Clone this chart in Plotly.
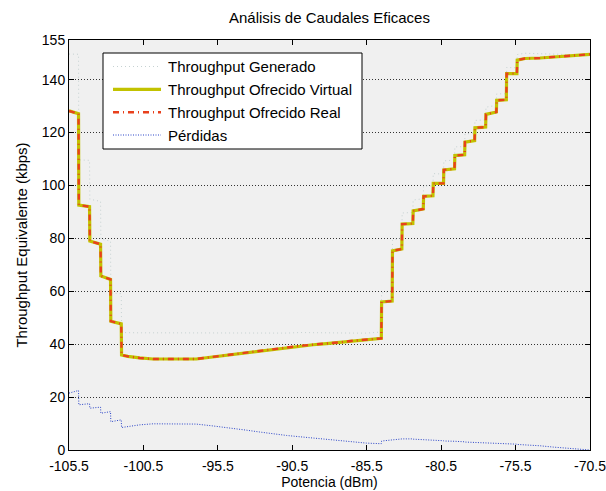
import plotly.graph_objects as go

# Potencia recibida (dBm) en los puntos de ruptura de las curvas
potencia = [-105.50, -104.86, -104.84, -104.12, -104.10, -103.38, -103.36, -102.71,
            -102.69, -101.99, -101.97, -101.55, -100.76, -99.86, -96.95, -95.83,
            -94.48, -93.58, -92.69, -91.79, -90.89, -89.99, -89.10, -88.20,
            -87.31, -86.41, -85.51, -84.62, -84.52, -84.50, -83.79, -83.77,
            -83.14, -83.12, -82.40, -82.38, -81.70, -81.68, -81.05, -81.03,
            -80.34, -80.32, -79.60, -79.58, -78.92, -78.90, -78.25, -78.23,
            -77.51, -77.49, -76.79, -76.77, -76.12, -76.10, -75.41, -75.39,
            -74.87, -73.86, -72.97, -72.06, -71.17, -70.50]

# Throughput generado (kbps)
generado = [149.7, 149.6, 109.7, 109.5, 94.8, 94.0, 79.7, 79.0, 59.4, 59.1,
            44.4, 44.3, 44.3, 44.3, 44.2, 44.3, 44.2, 44.2, 44.1, 44.2,
            44.2, 44.4, 44.3, 44.2, 44.1, 44.2, 44.2, 44.5, 44.6, 59.4,
            60.2, 79.3, 80.2, 89.6, 89.8, 94.5, 95.0, 99.8, 99.8, 104.5,
            104.3, 109.3, 109.6, 114.6, 114.7, 119.4, 119.9, 124.6, 124.8, 129.6,
            130.3, 134.6, 134.7, 144.6, 144.5, 149.5, 150.0, 149.8, 149.6, 149.4,
            149.4, 149.6]

# Throughput ofrecido, canal virtual (kbps)
ofrecido_virtual = [128.2, 127.1, 92.6, 92.0, 79.0, 77.8, 65.8, 64.5, 48.7, 47.7,
                    35.9, 35.4, 34.8, 34.4, 34.4, 35.2, 35.9, 36.7, 37.3, 38.1,
                    38.7, 39.4, 39.8, 40.2, 40.7, 41.3, 41.6, 42.1, 42.2, 56.0,
                    56.3, 75.3, 76.0, 85.4, 85.6, 90.4, 91.1, 95.9, 96.1, 100.8,
                    100.8, 105.9, 106.3, 111.3, 111.6, 116.4, 117.0, 121.8, 122.1, 126.9,
                    127.8, 132.2, 132.4, 142.3, 142.3, 147.4, 148.0, 148.2, 148.5, 148.8,
                    149.1, 149.6]

# Throughput ofrecido, canal real (kbps)
ofrecido_real = [128.2, 127.1, 92.6, 92.0, 79.0, 77.8, 65.8, 64.5, 48.7, 47.7,
                 35.9, 35.4, 34.8, 34.4, 34.4, 35.2, 35.9, 36.7, 37.3, 38.1,
                 38.7, 39.4, 39.8, 40.2, 40.7, 41.3, 41.6, 42.1, 42.2, 56.0,
                 56.3, 75.3, 76.0, 85.4, 85.6, 90.4, 91.1, 95.9, 96.1, 100.8,
                 100.8, 105.9, 106.3, 111.3, 111.6, 116.4, 117.0, 121.8, 122.1, 126.9,
                 127.8, 132.2, 132.4, 142.3, 142.3, 147.4, 148.0, 148.2, 148.5, 148.8,
                 149.1, 149.6]

# Pérdidas (kbps)
perdidas = [21.5, 22.5, 17.1, 17.5, 15.8, 16.2, 13.9, 14.5, 10.7, 11.4,
            8.5, 8.9, 9.5, 9.9, 9.8, 9.1, 8.3, 7.5, 6.8, 6.1,
            5.5, 5.0, 4.5, 4.0, 3.4, 2.9, 2.6, 2.4, 2.4, 3.4,
            3.9, 4.0, 4.2, 4.2, 4.2, 4.1, 3.9, 3.9, 3.7, 3.7,
            3.5, 3.4, 3.3, 3.3, 3.1, 3.0, 2.9, 2.8, 2.7, 2.7,
            2.5, 2.4, 2.3, 2.3, 2.2, 2.1, 2.0, 1.6, 1.1, 0.6,
            0.3, 0.0]

x_ticks = [-105.5, -100.5, -95.5, -90.5, -85.5, -80.5, -75.5, -70.5]
x_ticktext = ["-105.5", "-100.5", "-95.5", "-90.5", "-85.5", "-80.5", "-75.5", "-70.5"]
y_ticks = [0, 20, 40, 60, 80, 100, 120, 140, 155]
y_ticktext = ["0", "20", "40", "60", "80", "100", "120", "140", "155"]

series_names = ["Throughput Generado", "Throughput Ofrecido Virtual",
                "Throughput Ofrecido Real", "Pérdidas"]

# estilos de línea de cada serie
styles = [
    dict(color="#c6d2d2", width=1, dash="1px,3px"),
    dict(color="#c2c200", width=3.2, dash="solid"),
    dict(color="#e8401c", width=2.4, dash="6px,4px,1px,4px"),
    dict(color="#2a44c8", width=1, dash="1px,1.5px"),
]

FONT = "Liberation Sans, Arial, Helvetica, sans-serif"
W, H = 606, 491
ML, MR, MT, MB = 69, 16, 40, 41
PW, PH = W - ML - MR, H - MT - MB

fig = go.Figure()
for name, yv, st in zip(series_names,
                        [generado, ofrecido_virtual, ofrecido_real, perdidas],
                        styles):
    fig.add_trace(go.Scatter(x=potencia, y=yv, mode="lines", name=name,
                             line=st, showlegend=False, hoverinfo="skip"))


def px_x(p):
    return (p - ML) / PW


def px_y(p):
    return (MT + PH - p) / PH


# recuadro de la leyenda
shapes = [dict(type="rect", xref="paper", yref="paper",
               x0=px_x(103), x1=px_x(362), y0=px_y(149), y1=px_y(53),
               fillcolor="white", line=dict(color="black", width=1), layer="above")]
annotations = []
rows = [66.5, 89.3, 112.3, 135.0]
for name, st, ry in zip(series_names, styles, rows):
    shapes.append(dict(type="line", xref="paper", yref="paper",
                       x0=px_x(113), x1=px_x(161), y0=px_y(ry), y1=px_y(ry),
                       line=st, layer="above"))
    annotations.append(dict(text=name, xref="paper", yref="paper",
                            x=px_x(166), y=px_y(ry), xanchor="left", yanchor="middle",
                            showarrow=False, font=dict(family=FONT, size=15, color="black")))

axis_common = dict(ticks="inside", ticklen=5, tickcolor="black", tickwidth=1,
                   showline=True, linecolor="black", linewidth=1, mirror="allticks",
                   zeroline=False, ticklabeloverflow="allow", automargin=False,
                   tickfont=dict(family=FONT, size=14, color="black"))

fig.update_layout(
    width=W, height=H,
    margin=dict(l=ML, r=MR, t=MT, b=MB, pad=0, autoexpand=False),
    paper_bgcolor="white", plot_bgcolor="#f0f0f0",
    title=dict(text="Análisis de Caudales Eficaces", x=0.5, xanchor="center",
               xref="paper", y=1 - 18 / H, yanchor="middle", yref="container",
               font=dict(family=FONT, size=15, color="black")),
    xaxis=dict(range=[-105.5, -70.5], tickmode="array", tickvals=x_ticks,
               ticktext=x_ticktext, showgrid=False, ticklabelstandoff=3,
               title=dict(text="Potencia (dBm)", standoff=2,
                          font=dict(family=FONT, size=14, color="black")),
               **axis_common),
    yaxis=dict(range=[0, 155], tickmode="array", tickvals=y_ticks,
               ticktext=y_ticktext, showgrid=True, gridcolor="#333333",
               gridwidth=1, griddash="1px,2px",
               title=dict(text="Throughput Equivalente (kbps)", standoff=10,
                          font=dict(family=FONT, size=15, color="black")),
               **axis_common),
    shapes=shapes, annotations=annotations,
    showlegend=False,
)

fig.write_html("out.html")
